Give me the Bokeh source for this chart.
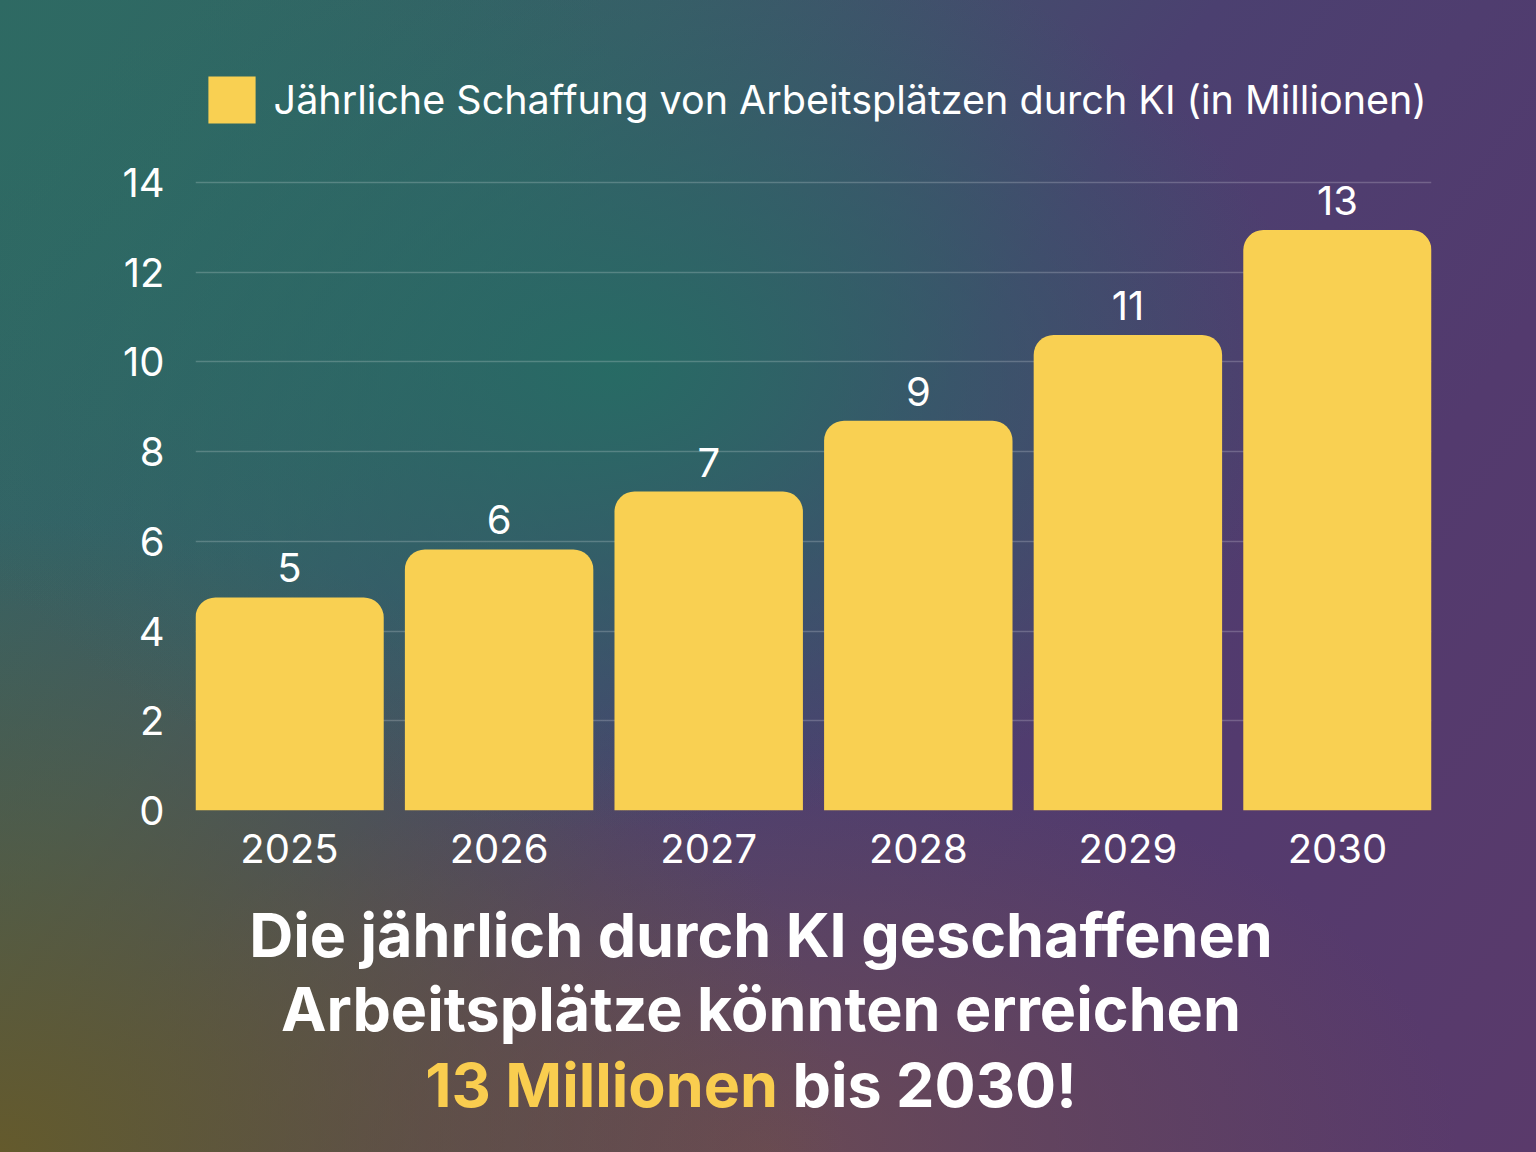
from bokeh.plotting import figure
from bokeh.models import (ColumnDataSource, LabelSet, Legend, LegendItem,
                          FixedTicker, Div)
from bokeh.layouts import column
from bokeh.core.properties import value
from bokeh.embed import file_html
from bokeh.resources import INLINE

# ---- data ----
years = [2025, 2026, 2027, 2028, 2029, 2030]
bar_heights = [4.75, 5.82, 7.11, 8.69, 10.6, 12.94]
bar_labels = ["5", "6", "7", "9", "11", "13"]
y_ticks = [0, 2, 4, 6, 8, 10, 12, 14]
legend_label = "Jährliche Schaffung von Arbeitsplätzen durch KI (in Millionen)"
headline_1 = "Die jährlich durch KI geschaffenen"
headline_2 = "Arbeitsplätze könnten erreichen"
headline_3a = "13 Millionen"
headline_3b = "bis 2030!"

BAR = "#F9D052"
YELLOW_TXT = "#F9CD4F"
FONT = "Inter"

W = 1536
FIG_H = 890
DIV_H = 1152 - FIG_H
TOP_B, BOT_B = 60, 80
px_per_unit = (FIG_H - BOT_B - 182) / 14.0          # 14 sits at y=182 px
y_end = (FIG_H - TOP_B - BOT_B) / px_per_unit        # invisible head-room for legend

p = figure(width=W, height=FIG_H, output_backend="svg", toolbar_location=None,
           x_range=(2025 - 0.4485, 2030 + 0.4485), y_range=(0, y_end),
           min_border_left=195, min_border_right=105,
           min_border_top=TOP_B, min_border_bottom=BOT_B)
p.border_fill_alpha = 0
p.background_fill_alpha = 0
p.outline_line_color = None

src = ColumnDataSource(dict(x=years, top=bar_heights, label=bar_labels))
bars = p.vbar(x="x", top="top", width=0.899, bottom=0, source=src,
              fill_color=BAR, line_color=None, border_radius=(20, 20, 0, 0))

# value labels above bars
p.add_layout(LabelSet(x="x", y="top", text="label", source=src, y_offset=15,
                      text_align="center", text_baseline="alphabetic",
                      text_color="white", text_font=value(FONT),
                      text_font_size=value("40px")))

# axes
p.xaxis.ticker = FixedTicker(ticks=years)
p.yaxis.ticker = FixedTicker(ticks=y_ticks)
for ax in (p.xaxis, p.yaxis):
    ax.axis_line_color = None
    ax.major_tick_line_color = None
    ax.minor_tick_line_color = None
    ax.major_label_text_color = "white"
    ax.major_label_text_font = FONT
    ax.major_label_text_font_size = "40px"
p.yaxis.major_label_standoff = 25
p.xaxis.major_label_standoff = 17
p.xgrid.grid_line_color = None
p.ygrid.grid_line_color = "white"
p.ygrid.grid_line_alpha = 0.2
p.ygrid.grid_line_width = 1.5

# legend (inside the invisible head-room of the plot frame)
GW = 59  # legend glyph box; the drawn square is 80 % of it (~47 px)
legend = Legend(items=[LegendItem(label=legend_label, renderers=[bars])],
                location=(6.6, FIG_H - BOT_B - 129), orientation="horizontal",
                glyph_width=GW, glyph_height=GW, label_height=GW,
                label_standoff=13, padding=0, margin=0, spacing=0,
                label_text_font=FONT, label_text_font_size="39.5px",
                label_text_color="white", background_fill_alpha=0,
                border_line_alpha=0)
p.add_layout(legend, "center")

# headline below the chart
html = (
    f'<div style="width:{W - 24}px; padding-top:3px; text-align:center; '
    f'font-family:{FONT}, sans-serif; font-weight:700; font-size:61px; '
    f'line-height:74px; color:#FFFFFF;">'
    f'{headline_1}<br>{headline_2}<br>'
    f'<span style="position:relative; left:-10px; top:2px">'
    f'<span style="color:{YELLOW_TXT}">{headline_3a}</span> {headline_3b}</span>'
    f'</div>'
)
div = Div(text=html, width=W, height=DIV_H,
          styles={"background": "transparent"})

bg = (
    "radial-gradient(ellipse 45% 40% at 40% 32%, rgba(38,108,100,0.95) 0%, rgba(38,108,100,0) 100%),"
    "radial-gradient(ellipse 40% 45% at 0% 8%, rgba(46,106,99,0.9) 0%, rgba(46,106,99,0) 100%),"
    "radial-gradient(ellipse 55% 55% at 0% 100%, rgba(100,90,44,1) 0%, rgba(100,90,44,0) 100%),"
    "radial-gradient(ellipse 45% 35% at 50% 100%, rgba(110,76,80,0.85) 0%, rgba(110,76,80,0) 100%),"
    "linear-gradient(125deg, #2e6a63 0%, #3a5c68 28%, #4b4070 52%, #533a6e 75%, #5a3a6b 100%)"
)
layout = column(p, div, spacing=0, width=W, height=1152,
                styles={"background": bg})

open("out.html", "w").write(file_html(layout, INLINE))
